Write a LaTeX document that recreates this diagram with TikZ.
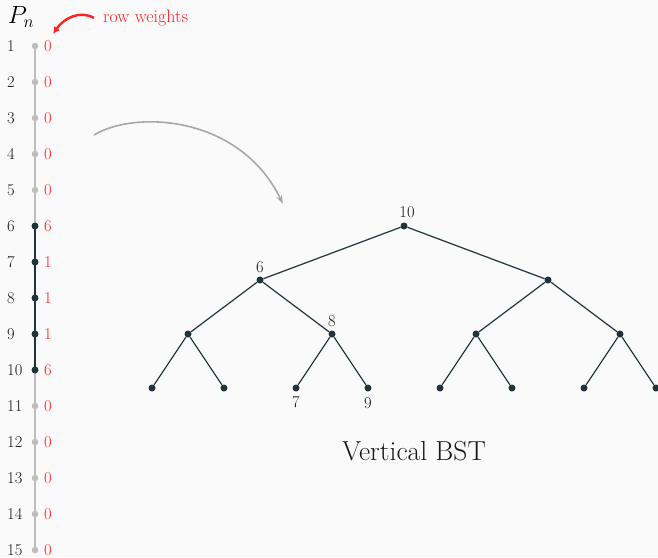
\documentclass[tikz,border=0pt]{standalone}
\usetikzlibrary{arrows.meta}
\definecolor{bg}{HTML}{FAFAFA}
\definecolor{dk}{HTML}{1F3338}
\definecolor{lg}{HTML}{BDBDBD}
\definecolor{rd}{HTML}{FF2020}
\definecolor{ag}{HTML}{A8A8A8}
\tikzset{
  txt/.style={font=\fontsize{16.5}{18}\selectfont, inner sep=0pt},
  rownum/.style={txt, anchor=west, text=black!90},
  wt/.style={txt, anchor=west, text=rd},
  gdot/.style={circle, fill=lg, inner sep=0pt, minimum size=6.5pt},
  ddot/.style={circle, fill=dk, inner sep=0pt, minimum size=7pt},
  tedge/.style={draw=dk, line width=1.2pt},
  tlab/.style={txt, text=black!90},
}
\begin{document}
\begin{tikzpicture}[x=1pt,y=-1pt]
\fill[bg] (0,0) rectangle (658,557);
\useasboundingbox (0,0) rectangle (658,557);
% header
\node[inner sep=0pt, font=\fontsize{23}{25}\selectfont] (pn) at (21,17) {$P_n$};
\node[inner sep=0pt, font=\fontsize{18}{20}\selectfont, text=rd, anchor=west] (rw) at (103,18) {row weights};
\coordinate (rwa) at (53,34);
\draw[rd, line width=2.4pt, -{Latex[length=7pt,width=7pt]}] (94,18) .. controls (80,10) and (64,18) .. (rwa);
% column of dots
\foreach \i in {1,...,15} {
  \coordinate (c\i) at (35,{46+36*(\i-1)});
  \node[rownum] (n\i) at (7,{46+36*(\i-1)}) {\i};
}
\draw[lg, line width=1.5pt] (c1) -- (c15);
\draw[dk, line width=1.5pt] (c6) -- (c10);
\foreach \i in {1,2,3,4,5,11,12,13,14,15} {
  \node[gdot] (d\i) at (c\i) {};
  \node[wt] (w\i) at (44,{46+36*(\i-1)}) {0};
}
\foreach \i/\w in {6/6,7/1,8/1,9/1,10/6} {
  \node[ddot] (d\i) at (c\i) {};
  \node[wt] (w\i) at (44,{46+36*(\i-1)}) {\w};
}
% gray arrow
\coordinate (ga) at (94,135);
\coordinate (gb) at (283,204);
\draw[ag, line width=1.6pt, -{Stealth[length=9pt,width=6pt]}] (ga) .. controls (135,110) and (240,115) .. (gb);
% tree
\node[ddot] (r) at (404,226) {};
\node[ddot] (a) at (260,280) {};
\node[ddot] (b) at (548,280) {};
\node[ddot] (aa) at (188,334) {};
\node[ddot] (ab) at (332,334) {};
\node[ddot] (ba) at (476,334) {};
\node[ddot] (bb) at (620,334) {};
\node[ddot] (l1) at (152,388) {};
\node[ddot] (l2) at (224,388) {};
\node[ddot] (l3) at (296,388) {};
\node[ddot] (l4) at (368,388) {};
\node[ddot] (l5) at (440,388) {};
\node[ddot] (l6) at (512,388) {};
\node[ddot] (l7) at (584,388) {};
\node[ddot] (l8) at (656,388) {};
\draw[tedge] (r) -- (a) (r) -- (b)
  (a) -- (aa) (a) -- (ab) (b) -- (ba) (b) -- (bb)
  (aa) -- (l1) (aa) -- (l2) (ab) -- (l3) (ab) -- (l4)
  (ba) -- (l5) (ba) -- (l6) (bb) -- (l7) (bb) -- (l8);
\node[tlab] (t10) at (407,212) {10};
\node[tlab] (t6) at (260,267) {6};
\node[tlab] (t8) at (332,321) {8};
\node[tlab] (t7) at (296,402) {7};
\node[tlab] (t9) at (368,403) {9};
\node[inner sep=0pt, text=black!90, font=\fontsize{27.5}{30}\selectfont] (title) at (414,451) {Vertical BST};
\end{tikzpicture}
\end{document}
